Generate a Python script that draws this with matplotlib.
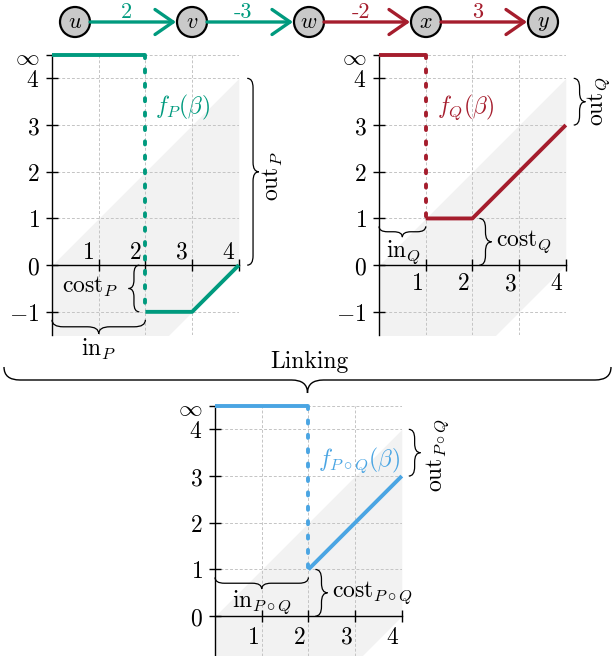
import numpy as np
import matplotlib
matplotlib.use("Agg")
import matplotlib.pyplot as plt
from matplotlib.path import Path
from matplotlib.patches import PathPatch, Circle

plt.rcParams["mathtext.fontset"] = "cm"
plt.rcParams["font.family"] = "serif"

# path graph on top
nodes = ["u", "v", "w", "x", "y"]
weights = ["2", "-3", "-2", "3"]
edge_owner = ["P", "P", "Q", "Q"]

# piecewise functions: threshold (in) and finite part
INF = 4.5
fP_in, fP_x, fP_y = 2, [2, 3, 4], [-1, -1, 0]
fQ_in, fQ_x, fQ_y = 1, [1, 2, 4], [1, 1, 3]
fPQ_in, fPQ_x, fPQ_y = 2, [2, 4], [1, 3]

# grey band  x-4 <= y <= x
band_x = [0, 4]
band_lo = [-4, 0]
band_hi = [0, 4]

x_ticks = [1, 2, 3, 4]

colors = {"P": "#009a7e", "Q": "#a51d2d", "PQ": "#4aa5e3"}

W, H = 615, 656
U = 46.7  # pixels per unit
FS = 17
fig = plt.figure(figsize=(W / 100, H / 100), dpi=100)

ax0 = fig.add_axes([0, 0, 1, 1])
ax0.set_xlim(0, W)
ax0.set_ylim(H, 0)
ax0.axis("off")


def brace(ax, p1, p2, amp, r=None, lw=0.9):
    p1 = np.array(p1, float)
    p2 = np.array(p2, float)
    d = p2 - p1
    L = np.hypot(*d)
    u = d / L
    n = np.array([-u[1], u[0]])
    h = amp / 2
    if r is None:
        r = min(abs(amp) * 0.8, L / 4)
    loc = [(0, 0), (0, h), (r, h), (L / 2 - r, h), (L / 2, h), (L / 2, amp),
           (L / 2, h), (L / 2 + r, h), (L - r, h), (L, h), (L, 0)]
    codes = [Path.MOVETO, Path.CURVE3, Path.CURVE3, Path.LINETO,
             Path.CURVE3, Path.CURVE3, Path.CURVE3, Path.CURVE3,
             Path.LINETO, Path.CURVE3, Path.CURVE3]
    pts = [p1 + a * u + b * n for a, b in loc]
    ax.add_patch(PathPatch(Path(pts, codes), fc="none", ec="black", lw=lw,
                           clip_on=False, zorder=4))


# top graph
gx0, gdx, gy, rad = 75, 117, 22, 15
for i, name in enumerate(nodes):
    cx = gx0 + i * gdx
    ax0.add_patch(Circle((cx, gy), rad, fc="#c9c9c9", ec="black", lw=1.6, zorder=3))
    ax0.text(cx, gy, "$%s$" % name, ha="center", va="center", fontsize=16, zorder=4)
for i, (wt, own) in enumerate(zip(weights, edge_owner)):
    cx = gx0 + i * gdx
    c = colors[own]
    ax0.annotate("", xy=(cx + gdx - rad - 1, gy), xytext=(cx + rad, gy),
                 arrowprops=dict(arrowstyle="->,head_length=1.3,head_width=0.9",
                                 lw=2.4, color=c, shrinkA=0, shrinkB=0))
    ax0.text(cx + gdx / 2 - 7, gy - 10, wt, color=c, ha="center", va="center",
             fontsize=16, fontfamily="cmr10")

# Linking brace
brace(ax0, (4, 367), (611, 367), 26, r=16, lw=1.0)
ax0.text(309, 362, "Linking", ha="center", va="center", fontsize=FS,
         fontfamily="cmr10")


def panel(x0, top, ymin):
    h = (INF - ymin) * U
    ax = fig.add_axes([x0 / W, (H - top - h) / H, 4 * U / W, h / H])
    ax.set_xlim(0, 4)
    ax.set_ylim(ymin, INF)
    ax.patch.set_alpha(0)
    ax.spines["top"].set_visible(False)
    ax.spines["right"].set_visible(False)
    ax.spines["bottom"].set_position(("data", 0))
    ax.spines["left"].set_linewidth(1.0)
    ax.spines["bottom"].set_linewidth(1.0)
    ax.set_xticks(x_ticks)
    ax.set_xticklabels([])
    yt = [t for t in [-1, 0, 1, 2, 3, 4] if t > ymin]
    ax.set_yticks(yt + [INF])
    ax.set_yticklabels(["$%d$" % t for t in yt] + [r"$\infty$"])
    ax.tick_params(direction="inout", length=8, width=1.0, labelsize=FS, pad=5)
    ax.grid(True, color="#c4c4c4", ls=(0, (3, 2)), lw=0.7)
    ax.set_axisbelow(True)
    ax.fill_between(band_x, band_lo, band_hi, color="#f2f2f2", lw=0, zorder=0.1)
    return ax


def draw_f(ax, x_in, xs, ys, c):
    ax.plot([0, x_in], [INF, INF], color=c, lw=2.8, solid_capstyle="butt",
            clip_on=False, zorder=3)
    ax.plot([x_in, x_in], [INF, ys[0]], color=c, lw=2.8, ls=(0, (0.8, 2.9)),
            dash_capstyle="round", clip_on=False, zorder=3)
    ax.plot(xs, ys, color=c, lw=2.8, solid_capstyle="butt", clip_on=False, zorder=3)


def xlabels(ax, dx, dy):
    for t in x_ticks:
        ax.text(t + dx, dy, "$%d$" % t, ha="center", va="center", fontsize=FS)


# panel P
axP = panel(52, 55, -1.5)
draw_f(axP, fP_in, fP_x, fP_y, colors["P"])
xlabels(axP, -0.22, 0.28)
axP.text(2.2, 3.38, r"$f_P(\beta)$", color=colors["P"], ha="left", va="center", fontsize=FS)
brace(axP, (4.18, 4.0), (4.18, 0.0), 0.25)
axP.text(4.73, 1.9, r"$\mathrm{out}_P$", rotation=90, ha="center", va="center", fontsize=FS)
brace(axP, (1.87, -1.0), (1.87, 0.0), 0.23)
axP.text(0.82, -0.47, r"$\mathrm{cost}_P$", ha="center", va="center", fontsize=FS)
brace(axP, (0, -1.17), (2, -1.17), -0.3)
axP.text(1.0, -1.8, r"$\mathrm{in}_P$", ha="center", va="center", fontsize=FS)

# panel Q
axQ = panel(379, 55, -1.5)
draw_f(axQ, fQ_in, fQ_x, fQ_y, colors["Q"])
xlabels(axQ, -0.19, -0.4)
axQ.text(1.24, 3.38, r"$f_Q(\beta)$", color=colors["Q"], ha="left", va="center", fontsize=FS)
brace(axQ, (4.17, 4.0), (4.17, 3.0), 0.25)
axQ.text(4.7, 3.5, r"$\mathrm{out}_Q$", rotation=90, ha="center", va="center", fontsize=FS)
brace(axQ, (2.15, 1.0), (2.15, 0.0), 0.26)
axQ.text(2.5, 0.5, r"$\mathrm{cost}_Q$", ha="left", va="center", fontsize=FS)
brace(axQ, (0, 0.83), (1, 0.83), -0.23)
axQ.text(0.52, 0.28, r"$\mathrm{in}_Q$", ha="center", va="center", fontsize=FS)

# panel P o Q
axR = panel(215, 406, -0.85)
draw_f(axR, fPQ_in, fPQ_x, fPQ_y, colors["PQ"])
xlabels(axR, -0.19, -0.45)
axR.text(2.2, 3.34, r"$f_{P\circ Q}(\beta)$", color=colors["PQ"], ha="left", va="center", fontsize=FS)
brace(axR, (4.15, 4.0), (4.15, 3.0), 0.25)
axR.text(4.78, 3.45, r"$\mathrm{out}_{P\circ Q}$", rotation=90, ha="center", va="center", fontsize=FS)
brace(axR, (2.15, 1.0), (2.15, 0.0), 0.26)
axR.text(2.5, 0.5, r"$\mathrm{cost}_{P\circ Q}$", ha="left", va="center", fontsize=FS)
brace(axR, (0, 0.83), (2, 0.83), -0.25)
axR.text(1.0, 0.3, r"$\mathrm{in}_{P\circ Q}$", ha="center", va="center", fontsize=FS)

fig.savefig("out.png", dpi=100)
